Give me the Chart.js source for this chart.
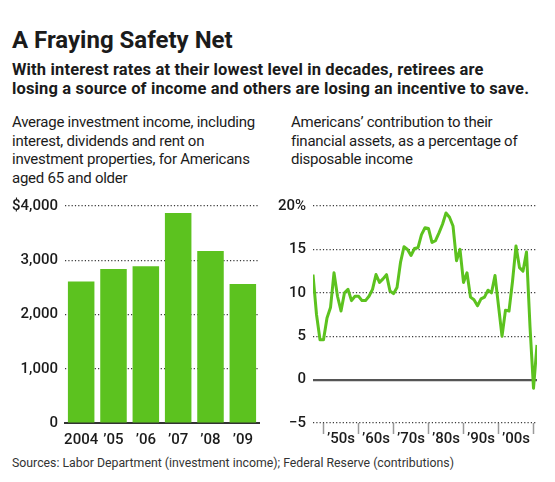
<!DOCTYPE html>
<html>
<head>
<meta charset="utf-8">
<script src="https://cdn.jsdelivr.net/npm/chart.js@4.4.1/dist/chart.umd.min.js"></script>
<style>
  html, body { margin: 0; padding: 0; background: #fff; }
  body { width: 555px; height: 482px; position: relative; overflow: hidden; font-family: Roboto, "Open Sans", sans-serif; color: #1b1b1b; }
  .txt { position: absolute; white-space: nowrap; }
  #title { left: 12px; top: 26px; font-size: 24px; line-height: 28px; font-weight: 700; }
  #dek { left: 12px; top: 60px; font-size: 16.5px; line-height: 19px; font-weight: 700; letter-spacing: 0.15px; }
  .sub { top: 112.8px; font-size: 15px; line-height: 18.7px; letter-spacing: -0.25px; }
  #subL { left: 12px; }
  #subR { left: 291px; }
  #source { left: 12px; top: 456px; font-size: 12.3px; line-height: 14px; color: #333; }
  .box { position: absolute; top: 190px; height: 270px; }
  #barBox { left: 0; width: 270px; }
  #lineBox { left: 270px; width: 285px; }
</style>
</head>
<body>
<div id="title" class="txt">A Fraying Safety Net</div>
<div id="dek" class="txt">With interest rates at their lowest level in decades, retirees are<br>losing a source of income and others are losing an incentive to save.</div>
<div id="subL" class="txt sub">Average investment income, including<br>interest, dividends and rent on<br>investment properties, for Americans<br>aged 65 and older</div>
<div id="subR" class="txt sub">Americans’ contribution to their<br>financial assets, as a percentage of<br>disposable income</div>
<div id="source" class="txt">Sources: Labor Department (investment income); Federal Reserve (contributions)</div>

<div id="barBox" class="box"><canvas id="barChart" width="270" height="270"></canvas></div>
<div id="lineBox" class="box"><canvas id="lineChart" width="285" height="270"></canvas></div>

<script>
// --- data ---
const incomeYears = ['2004', '’05', '’06', '’07', '’08', '’09'];
const incomeValues = [2610, 2840, 2890, 3870, 3170, 2560];
const incomeTicks = [0, 1000, 2000, 3000, 4000];

const saveYears = [1947, 1948, 1949, 1950, 1951, 1952, 1953, 1954, 1955, 1956,
    1957, 1958, 1959, 1960, 1961, 1962, 1963, 1964, 1965, 1966,
    1967, 1968, 1969, 1970, 1971, 1972, 1973, 1974, 1975, 1976,
    1977, 1978, 1979, 1980, 1981, 1982, 1983, 1984, 1985, 1986,
    1987, 1988, 1989, 1990, 1991, 1992, 1993, 1994, 1995, 1996,
    1997, 1998, 1999, 2000, 2001, 2002, 2003, 2004, 2005, 2006,
    2007, 2008, 2009, 2010, 2011];
const saveValues = [12.1, 7.5, 4.6, 4.6, 7.1, 8.3, 12.3, 9.6, 7.9, 10.0,
    10.4, 9.1, 9.6, 9.6, 9.1, 9.1, 9.6, 10.4, 12.1, 11.2,
    11.6, 12.1, 10.2, 9.9, 10.6, 13.5, 15.3, 15.0, 14.3, 15.1,
    15.2, 16.7, 17.5, 17.4, 15.8, 16.0, 16.9, 17.9, 19.2, 18.7,
    17.7, 13.7, 15.0, 11.2, 12.3, 9.5, 9.2, 8.5, 9.3, 9.5,
    10.3, 10.0, 12.0, 8.5, 5.0, 8.0, 7.9, 11.3, 15.4, 12.9,
    12.5, 14.7, 6.1, -1.0, 4.0];
const saveTicks = [-5, 0, 5, 10, 15, 20];
const decadeLabels = ['’50s', '’60s', '’70s', '’80s', '’90s', '’00s'];

const GREEN = '#5cc21f';
const DOTS = [1.2, 2.1];

Chart.defaults.font.family = 'Roboto, "Open Sans", sans-serif';
Chart.defaults.font.size = 15;
Chart.defaults.font.weight = '500';
Chart.defaults.color = '#1b1b1b';
Chart.defaults.animation = false;

// --- BAR CHART: average investment income ---
function initBarChart() {
    const ctx = document.getElementById('barChart');
    new Chart(ctx.getContext('2d'), {
        type: 'bar',
        data: {
            labels: incomeYears,
            datasets: [{
                data: incomeValues,
                backgroundColor: GREEN,
                borderWidth: 0,
                categoryPercentage: 1,
                barPercentage: 0.82
            }]
        },
        options: {
            responsive: false,
            layout: { padding: { top: 16, right: 11, left: 0, bottom: 0 } },
            plugins: { legend: { display: false }, tooltip: { enabled: false } },
            scales: {
                x: {
                    grid: { display: false, drawTicks: false },
                    border: { display: true, color: '#333', width: 2 },
                    ticks: { padding: 8, maxRotation: 0, autoSkip: false },
                    afterFit: s => { s.height = 37; }
                },
                y: {
                    min: 0,
                    max: 4000,
                    afterBuildTicks: s => { s.ticks = incomeTicks.map(v => ({ value: v })); },
                    grid: {
                        drawTicks: false,
                        color: c => c.tick && c.tick.value === 0 ? 'rgba(0,0,0,0)' : '#3a3a3a',
                        lineWidth: 1.2
                    },
                    border: { display: false, dash: DOTS },
                    ticks: {
                        padding: 7,
                        callback: v => (v === 4000 ? '$' : '') + v.toLocaleString('en-US')
                    },
                    afterFit: s => { s.width = 65; }
                }
            }
        }
    });
}

// --- LINE CHART: contribution to financial assets ---
function initLineChart() {
    const ctx = document.getElementById('lineChart');
    new Chart(ctx.getContext('2d'), {
        type: 'line',
        data: {
            datasets: [{
                data: saveYears.map((y, i) => ({ x: y, y: saveValues[i] })),
                borderColor: GREEN,
                borderWidth: 3,
                pointRadius: 0,
                tension: 0,
                fill: false,
                borderJoinStyle: 'round'
            }]
        },
        options: {
            responsive: false,
            layout: { padding: { top: 16, right: 18, left: 0, bottom: 0 } },
            plugins: { legend: { display: false }, tooltip: { enabled: false } },
            scales: {
                x: {
                    type: 'linear',
                    min: 1947,
                    max: 2011,
                    grid: {
                        drawOnChartArea: false,
                        drawTicks: true,
                        tickLength: 11,
                        tickWidth: 1.5,
                        tickColor: c => c.tick && c.tick.value % 10 === 0 ? '#9a9a9a' : 'rgba(0,0,0,0)'
                    },
                    border: { display: false },
                    ticks: {
                        stepSize: 5,
                        includeBounds: false,
                        autoSkip: false,
                        maxRotation: 0,
                        padding: -4,
                        callback: v => v % 10 === 5 ? decadeLabels[(v - 1955) / 10] : ''
                    },
                    afterFit: s => { s.height = 37; }
                },
                y: {
                    min: -5,
                    max: 20,
                    afterBuildTicks: s => { s.ticks = saveTicks.map(v => ({ value: v })); },
                    grid: {
                        drawTicks: false,
                        color: c => c.tick && c.tick.value === 0 ? '#555' : '#3a3a3a',
                        lineWidth: c => c.tick && c.tick.value === 0 ? 2.2 : 1.2
                    },
                    border: {
                        display: false,
                        dash: c => c.tick && c.tick.value === 0 ? [] : DOTS
                    },
                    ticks: {
                        padding: 7,
                        callback: v => v === 20 ? '20%' : (v < 0 ? '−' + Math.abs(v) : String(v))
                    },
                    afterFit: s => { s.width = 43; }
                }
            }
        }
    });
}

window.onload = function () {
    initBarChart();
    initLineChart();
};
</script>
</body>
</html>
